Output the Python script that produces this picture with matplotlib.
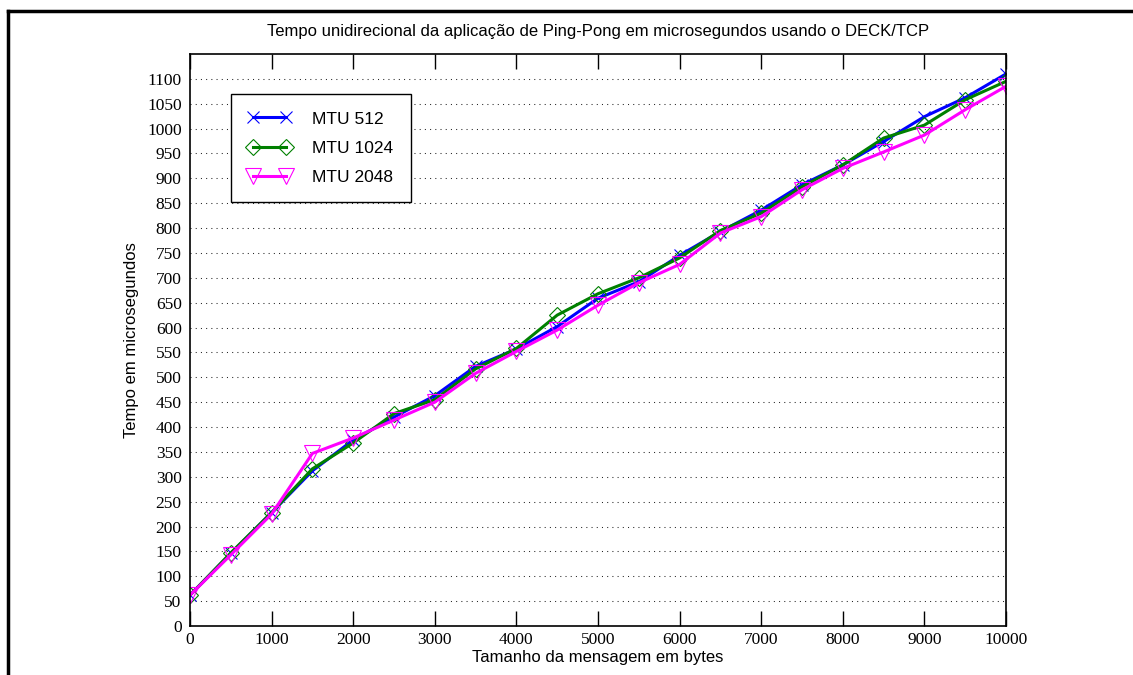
import matplotlib.pyplot as plt
import numpy as np
from matplotlib.lines import Line2D

# tamanho da mensagem (bytes)
tamanhos = list(range(0, 10001, 500))

# tempo unidirecional (us)
mtu512 = [62, 146, 228, 312, 374, 420, 463, 522, 557, 602, 659, 692,
          745, 793, 836, 887, 927, 974, 1024, 1062, 1110]
mtu1024 = [62, 147, 228, 316, 368, 427, 455, 517, 558, 625, 668, 700,
           740, 795, 830, 883, 927, 981, 1007, 1058, 1095]
mtu2048 = [62, 143, 225, 347, 378, 414, 450, 508, 552, 595, 645, 690,
           727, 790, 823, 877, 920, 953, 987, 1038, 1085]

series = [
    ('MTU 512', mtu512, '#0000ff', 'x', 9),
    ('MTU 1024', mtu1024, '#008000', 'D', 8),
    ('MTU 2048', mtu2048, '#ff00ff', 'v', 11),
]

serif = ['Liberation Serif', 'DejaVu Serif']
sans = ['Liberation Sans', 'DejaVu Sans']

fig = plt.figure(figsize=(11.33, 6.75), dpi=100)
ax = fig.add_axes([190/1133, 1 - 626/675, (1006-190)/1133, (626-54)/675])

for nome, vals, cor, mk, ms in series:
    ax.plot(tamanhos, vals, color=cor, lw=2.2, marker=mk, ms=ms,
            mfc='none', mec=cor, mew=0.8, label=nome)

ax.set_xlim(0, 10000)
ax.set_ylim(0, 1150)
ax.set_xticks(range(0, 10001, 1000))
ax.set_yticks(range(0, 1101, 50))

ax.yaxis.grid(True, color='0.15', lw=0.75, ls=(0, (1, 4)))
ax.tick_params(axis='x', direction='in', length=11, width=1, top=True,
               pad=4, labelsize=12.5)
ax.tick_params(axis='y', direction='in', length=0, pad=6, labelsize=12.5)
for lab in ax.get_xticklabels() + ax.get_yticklabels():
    lab.set_family(serif)
for s in ax.spines.values():
    s.set_linewidth(1.2)

ax.set_title('Tempo unidirecional da aplicação de Ping-Pong em microsegundos usando o DECK/TCP',
             family=sans, fontsize=12, pad=13)
ax.set_xlabel('Tamanho da mensagem em bytes', family=sans, fontsize=12, labelpad=2)
ax.set_ylabel('Tempo em microsegundos', family=sans, fontsize=12, labelpad=6)

leg = ax.legend(loc='upper left', bbox_to_anchor=(0.05, 0.93), borderaxespad=0,
                numpoints=2, fancybox=False, framealpha=1, edgecolor='black',
                handlelength=2.5, handletextpad=1.2, borderpad=1.0,
                labelspacing=0.8, prop={'family': sans, 'size': 12.5})
leg.get_frame().set_linewidth(1.0)

# moldura da figura
fig.add_artist(Line2D([8/1133, 1], [1 - 11/675, 1 - 11/675], color='black',
                      lw=2.5, transform=fig.transFigure))
fig.add_artist(Line2D([8/1133, 8/1133], [0, 1 - 11/675], color='black',
                      lw=2.5, transform=fig.transFigure))

fig.savefig('out.png', dpi=100)
